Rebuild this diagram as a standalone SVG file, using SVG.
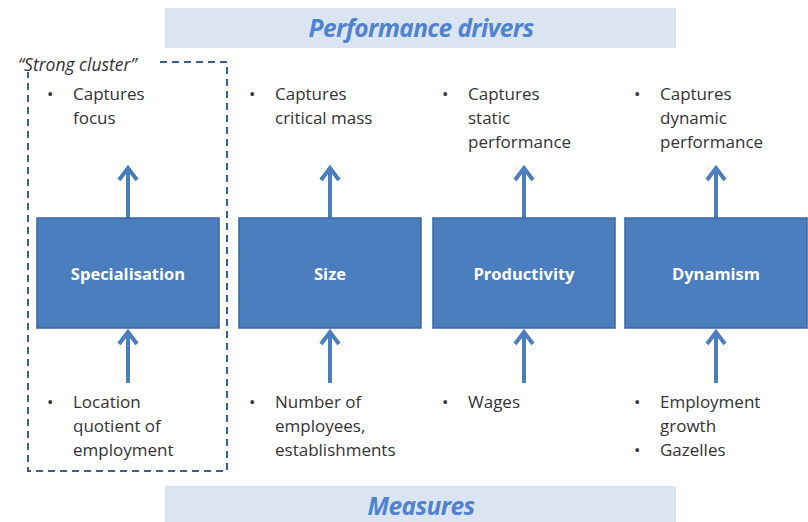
<svg xmlns="http://www.w3.org/2000/svg" width="808" height="522" viewBox="0 0 808 522">
<defs>
<style>
.banner{fill:#dbe5f2}
.title{font-family:"Open Sans","Liberation Sans",sans-serif;font-style:italic;font-weight:bold;font-size:24.5px;fill:#4f82cf;text-anchor:middle;letter-spacing:-0.6px}
.box{fill:#4a7ebf;stroke:#3b679f;stroke-width:1.5}
.lbl{font-family:"Open Sans","Liberation Sans",sans-serif;font-weight:bold;font-size:16.5px;fill:#ffffff;text-anchor:middle}
.txt{font-family:"Open Sans","Liberation Sans",sans-serif;font-size:17px;fill:#333333}
.arrow{stroke:#4a7ebf;stroke-width:4;fill:none}
.head{stroke:#4a7ebf;stroke-width:4;fill:none;stroke-linejoin:miter}
</style>
</defs>
<rect class="banner" x="165" y="8" width="511" height="40"/>
<text class="title" x="421" y="37">Performance drivers</text>
<rect class="banner" x="165" y="486" width="511" height="36"/>
<text class="title" x="421" y="515">Measures</text>

<g id="cluster">
<rect x="28" y="62" width="199" height="409" fill="none" stroke="#3b5f8f" stroke-width="2" stroke-dasharray="7,5"/>
<rect x="14" y="52" width="141" height="20" fill="#ffffff"/>
<text x="18" y="71" font-family="'Open Sans','Liberation Sans',sans-serif" font-style="italic" font-size="17.5px" fill="#333333">“Strong cluster”</text>
</g>

<g id="connectors">
<line class="arrow" x1="128" y1="218" x2="128" y2="168"/>
<polyline class="head" points="119,180 128,168 137,180"/>
<line class="arrow" x1="330" y1="218" x2="330" y2="168"/>
<polyline class="head" points="321,180 330,168 339,180"/>
<line class="arrow" x1="524" y1="218" x2="524" y2="168"/>
<polyline class="head" points="515,180 524,168 533,180"/>
<line class="arrow" x1="716" y1="218" x2="716" y2="168"/>
<polyline class="head" points="707,180 716,168 725,180"/>
<line class="arrow" x1="128" y1="383" x2="128" y2="332"/>
<polyline class="head" points="119,344 128,332 137,344"/>
<line class="arrow" x1="330" y1="383" x2="330" y2="332"/>
<polyline class="head" points="321,344 330,332 339,344"/>
<line class="arrow" x1="524" y1="383" x2="524" y2="332"/>
<polyline class="head" points="515,344 524,332 533,344"/>
<line class="arrow" x1="716" y1="383" x2="716" y2="332"/>
<polyline class="head" points="707,344 716,332 725,344"/>
</g>

<g id="specialisation">
<rect class="box" x="37" y="218" width="182" height="110"/>
<text class="lbl" x="128" y="280">Specialisation</text>
</g>
<g id="size">
<rect class="box" x="239" y="218" width="182" height="110"/>
<text class="lbl" x="330" y="280">Size</text>
</g>
<g id="productivity">
<rect class="box" x="433" y="218" width="182" height="110"/>
<text class="lbl" x="524" y="280">Productivity</text>
</g>
<g id="dynamism">
<rect class="box" x="625" y="218" width="182" height="110"/>
<text class="lbl" x="716" y="280">Dynamism</text>
</g>

<g id="drivers-text">
<text class="txt" x="47" y="100">•</text>
<text class="txt" x="73" y="100">Captures</text>
<text class="txt" x="73" y="124">focus</text>
<text class="txt" x="249" y="100">•</text>
<text class="txt" x="275" y="100">Captures</text>
<text class="txt" x="275" y="124">critical mass</text>
<text class="txt" x="442" y="100">•</text>
<text class="txt" x="468" y="100">Captures</text>
<text class="txt" x="468" y="124">static</text>
<text class="txt" x="468" y="148">performance</text>
<text class="txt" x="634" y="100">•</text>
<text class="txt" x="660" y="100">Captures</text>
<text class="txt" x="660" y="124">dynamic</text>
<text class="txt" x="660" y="148">performance</text>
</g>

<g id="measures-text">
<text class="txt" x="47" y="408">•</text>
<text class="txt" x="73" y="408">Location</text>
<text class="txt" x="73" y="432">quotient of</text>
<text class="txt" x="73" y="456">employment</text>
<text class="txt" x="249" y="408">•</text>
<text class="txt" x="275" y="408">Number of</text>
<text class="txt" x="275" y="432">employees,</text>
<text class="txt" x="275" y="456">establishments</text>
<text class="txt" x="442" y="408">•</text>
<text class="txt" x="468" y="408">Wages</text>
<text class="txt" x="634" y="408">•</text>
<text class="txt" x="660" y="408">Employment</text>
<text class="txt" x="660" y="432">growth</text>
<text class="txt" x="634" y="456">•</text>
<text class="txt" x="660" y="456">Gazelles</text>
</g>
</svg>
